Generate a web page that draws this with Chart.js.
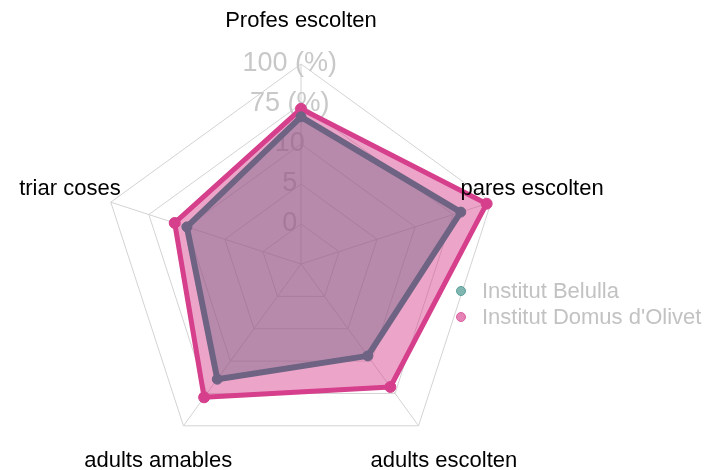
<!DOCTYPE html>
<html>
<head>
<meta charset="utf-8">
<script src="https://cdn.jsdelivr.net/npm/chart.js@4/dist/chart.umd.min.js"></script>
<style>
  html, body { margin: 0; padding: 0; background: #ffffff; }
  #wrap { position: relative; width: 708px; height: 470px; }
</style>
</head>
<body>
<div id="wrap"><canvas id="c" width="708" height="470"></canvas></div>
<script>
const categories = ['Profes escolten', 'pares escolten', 'adults escolten', 'adults amables', 'triar coses'];
const seriesNames = ['Institut Belulla', "Institut Domus d'Olivet"];
const belulla = [67, 80, 46, 64, 50];
const domus = [72, 97, 70, 78, 58];
const tickValues = [0, 25, 50, 75, 100];
const tickLabels = ['0', '5', '10', '75 (%)', '100 (%)'];

const lineColors = ['#6e6383', '#d63f8c'];
const fillColors = ['rgba(110,99,131,0.42)', 'rgba(214,63,140,0.47)'];
const legendDotColors = ['#7fb6b1', '#e583b6'];
const legendDotBorders = ['#5d9f99', '#d9609f'];

const pointLabelPlugin = {
  id: 'pointLabelPlugin',
  afterDraw(chart) {
    const scale = chart.scales.r;
    const ctx = chart.ctx;
    ctx.save();
    ctx.font = '22px "Liberation Sans", Arial, sans-serif';
    ctx.fillStyle = '#000000';
    ctx.textAlign = 'center';
    ctx.textBaseline = 'middle';
    const dist = scale.drawingArea * 1.215;
    chart.data.labels.forEach((lab, i) => {
      const p = scale.getPointPosition(i, dist);
      ctx.fillText(lab, p.x, p.y);
    });
    // legend
    ctx.font = '22px "Liberation Sans", Arial, sans-serif';
    ctx.textAlign = 'left';
    const lx = 461, ly = 291, step = 26;
    chart.data.datasets.forEach((ds, i) => {
      const y = ly + i * step;
      ctx.beginPath();
      ctx.arc(lx, y, 4.5, 0, Math.PI * 2);
      ctx.fillStyle = legendDotColors[i];
      ctx.fill();
      ctx.lineWidth = 1;
      ctx.strokeStyle = legendDotBorders[i];
      ctx.stroke();
      ctx.fillStyle = '#c2c2c2';
      ctx.fillText(ds.label, lx + 21, y + 1);
    });
    ctx.restore();
  }
};

new Chart(document.getElementById('c'), {
  type: 'radar',
  data: {
    labels: categories,
    datasets: [
      {
        label: seriesNames[0],
        data: belulla,
        borderColor: lineColors[0],
        backgroundColor: fillColors[0],
        borderWidth: 6,
        borderJoinStyle: 'round',
        pointRadius: 5,
        pointBackgroundColor: lineColors[0],
        pointBorderColor: lineColors[0],
        pointBorderWidth: 1,
        fill: 'start'
      },
      {
        label: seriesNames[1],
        data: domus,
        borderColor: lineColors[1],
        backgroundColor: fillColors[1],
        borderWidth: 5,
        borderJoinStyle: 'round',
        pointRadius: 5.5,
        pointBackgroundColor: lineColors[1],
        pointBorderColor: lineColors[1],
        pointBorderWidth: 1,
        fill: 'start'
      }
    ]
  },
  options: {
    responsive: false,
    animation: false,
    layout: { padding: { left: 0, right: 106, top: 59, bottom: 0 } },
    plugins: {
      legend: { display: false },
      tooltip: { enabled: false }
    },
    scales: {
      r: {
        min: -25,
        max: 100,
        afterBuildTicks(axis) {
          axis.ticks = [{ value: -25 }].concat(tickValues.map(v => ({ value: v })));
        },
        angleLines: { color: '#d3d3d3', lineWidth: 1 },
        grid: { color: '#d3d3d3', lineWidth: 1 },
        pointLabels: { display: false },
        ticks: {
          display: true,
          showLabelBackdrop: false,
          backdropPadding: -8,
          color: '#c8c8c8',
          font: { size: 27, family: '"Liberation Sans", Arial, sans-serif' },
          callback(value) {
            const idx = tickValues.indexOf(value);
            return idx >= 0 ? tickLabels[idx] + '   ' : '';
          }
        }
      }
    }
  },
  plugins: [pointLabelPlugin]
});
</script>
</body>
</html>
